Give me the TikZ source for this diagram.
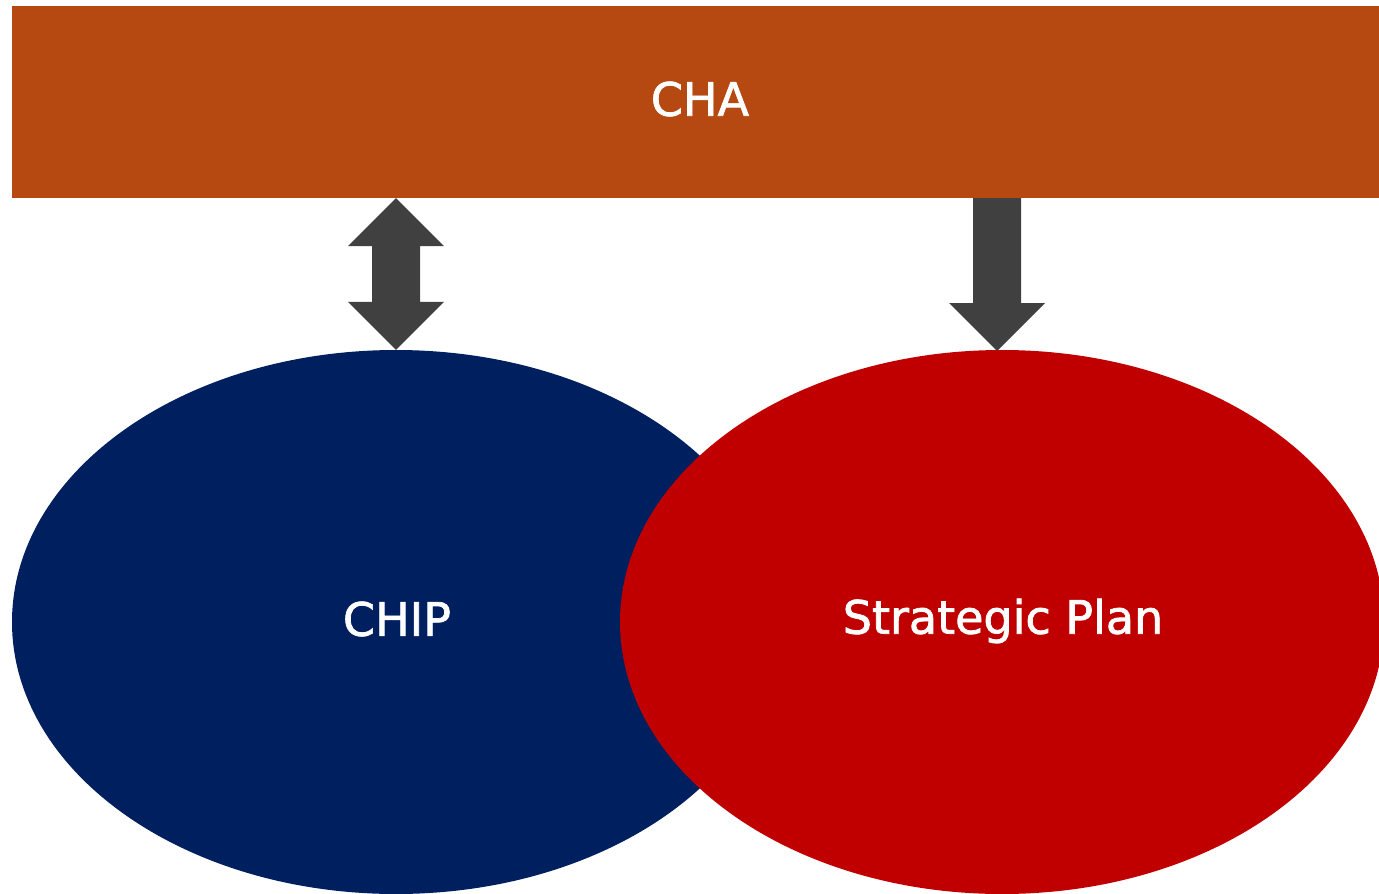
\documentclass[tikz,border=0pt]{standalone}
\usepackage{fontspec}
\setmainfont{DejaVu Sans}[FakeBold=1.6]
\usetikzlibrary{shapes.geometric,calc}
\definecolor{barcol}{RGB}{181,73,17}
\definecolor{chipcol}{RGB}{0,31,95}
\definecolor{plancol}{RGB}{192,0,0}
\definecolor{arrcol}{RGB}{64,64,64}
\tikzset{
  lbl/.style={text=white,font=\fontsize{46}{54}\selectfont,inner sep=0pt},
  oval/.style={ellipse,inner sep=0pt,minimum width=768pt,minimum height=544pt},
  fatarrow/.style={fill=arrcol,draw=none}
}
\begin{document}
\begin{tikzpicture}[x=1pt,y=-1pt]
\useasboundingbox (0,0) rectangle (1379,894);
\clip (0,0) rectangle (1379,894);
\node[fill=barcol,minimum width=1367pt,minimum height=192pt,inner sep=0pt] (cha) at (695.5,102) {};
\node[lbl] (chatext) at (700,99) {CHA};
\node[oval,fill=chipcol] (chip) at (396,622) {};
\node[lbl] (chiptext) at (397,619) {CHIP};
\node[oval,fill=plancol,minimum width=764pt] (plan) at (1002,622) {};
\node[lbl] (plantext) at (1003,621) {Strategic Plan};
% double arrow CHA <-> CHIP
\coordinate (a1) at (chip.north |- cha.south);
\coordinate (a2) at (chip.north);
\fill[fatarrow] (a1) -- ($(a1)+(48,48)$) -- ($(a1)+(24,48)$) -- ($(a2)+(24,-48)$) -- ($(a2)+(48,-48)$)
  -- (a2) -- ($(a2)+(-48,-48)$) -- ($(a2)+(-24,-48)$) -- ($(a1)+(-24,48)$) -- ($(a1)+(-48,48)$) -- cycle;
% single arrow CHA -> Strategic Plan
\coordinate (b1) at (997,198);
\coordinate (b2) at (997,351);
\fill[fatarrow] ($(b1)+(-24,0)$) -- ($(b1)+(24,0)$) -- ($(b2)+(24,-48)$) -- ($(b2)+(48,-48)$)
  -- (b2) -- ($(b2)+(-48,-48)$) -- ($(b2)+(-24,-48)$) -- cycle;
\end{tikzpicture}
\end{document}
